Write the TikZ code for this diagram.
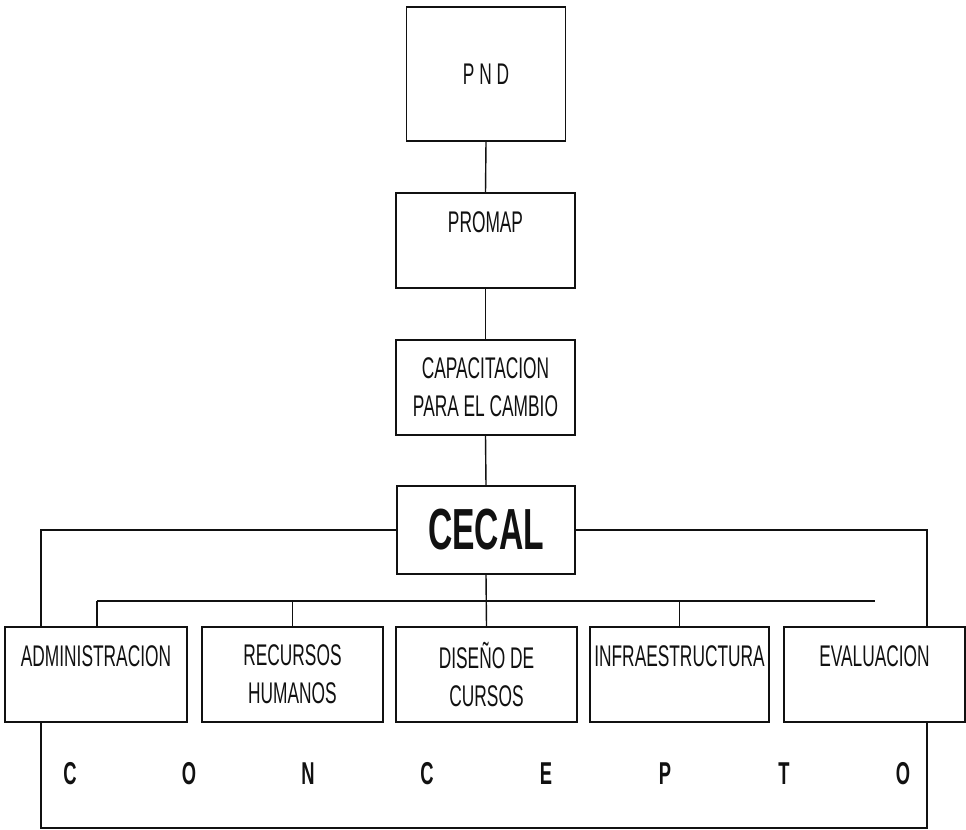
\documentclass[tikz,border=0pt]{standalone}
\usepackage{fontspec}
\usepackage{tikz}
\usetikzlibrary{calc,positioning}
\newfontfamily\narrowfont{Liberation Sans}[FakeStretch=0.58]
\definecolor{Ink}{HTML}{111111}

\begin{document}
\begin{tikzpicture}[x=0.02cm,y=-0.02cm,line width=0.8pt,
    every node/.style={font=\narrowfont\fontsize{17}{21.5}\selectfont,text=Ink},
    orgbox/.style={draw=Ink,rectangle,align=center,inner sep=0pt,minimum width=3.58cm,minimum height=1.90cm},
    areabox/.style={orgbox,minimum width=3.62cm},
    letterbig/.style={font=\narrowfont\bfseries\fontsize{18}{20}\selectfont}]
    \useasboundingbox (0,0) rectangle (966,830);
    % top chain
    \node[orgbox,minimum width=3.18cm,minimum height=2.68cm] (pnd) at (486,74) {P N D};
    \node[orgbox] (promap) at (485.5,240.5) {PROMAP\\\mbox{}};
    \node[orgbox] (capac) at (485.5,387.5) {CAPACITACION\\PARA EL CAMBIO};
    \node[orgbox,minimum width=3.56cm,minimum height=1.76cm,font=\narrowfont\bfseries\fontsize{33}{36}\selectfont] (cecal) at (486,530) {CECAL};
    \draw[Ink] (pnd.south) -- (promap.north);
    \draw[Ink] (promap.south) -- (capac.north);
    \draw[Ink] (capac.south) -- (cecal.north);
    % areas
    \node[areabox,minimum width=3.64cm] (admin) at (96,674.5) {ADMINISTRACION\\\mbox{}};
    \node[areabox] (recur) at (292.5,674.5) {RECURSOS\\HUMANOS};
    \node[areabox] (disen) at (486.5,674.5) {DISEÑO DE\\CURSOS};
    \node[areabox,minimum width=3.58cm] (infra) at (679.5,674.5) {INFRAESTRUCTURA\\\mbox{}};
    \node[areabox] (evalu) at (874.5,674.5) {EVALUACION\\\mbox{}};
    \coordinate (busL) at (97,601);
    \coordinate (busR) at (875,601);
    \draw[Ink] (busL) -- (busR);
    \draw[Ink] (busL) -- (admin.north -| busL);
    \draw[Ink] (recur.north) -- (recur.north |- busL);
    \draw[Ink] (cecal.south) -- (disen.north);
    \draw[Ink] (infra.north) -- (infra.north |- busL);
    % outer frame
    \coordinate (frameL) at (41,828);
    \coordinate (frameR) at (927,828);
    \draw[Ink] (cecal.west) -| (admin.north -| frameL);
    \draw[Ink] (cecal.east) -| (evalu.north -| frameR);
    \draw[Ink] (admin.south -| frameL) -- (frameL) -- (frameR) -- (evalu.south -| frameR);
    \foreach \ch [count=\i from 0] in {C,O,N,C,E,P,T,O}
      \node[letterbig] (letter\i) at ({70+119*\i},774) {\ch};
  \end{tikzpicture}
\end{document}
